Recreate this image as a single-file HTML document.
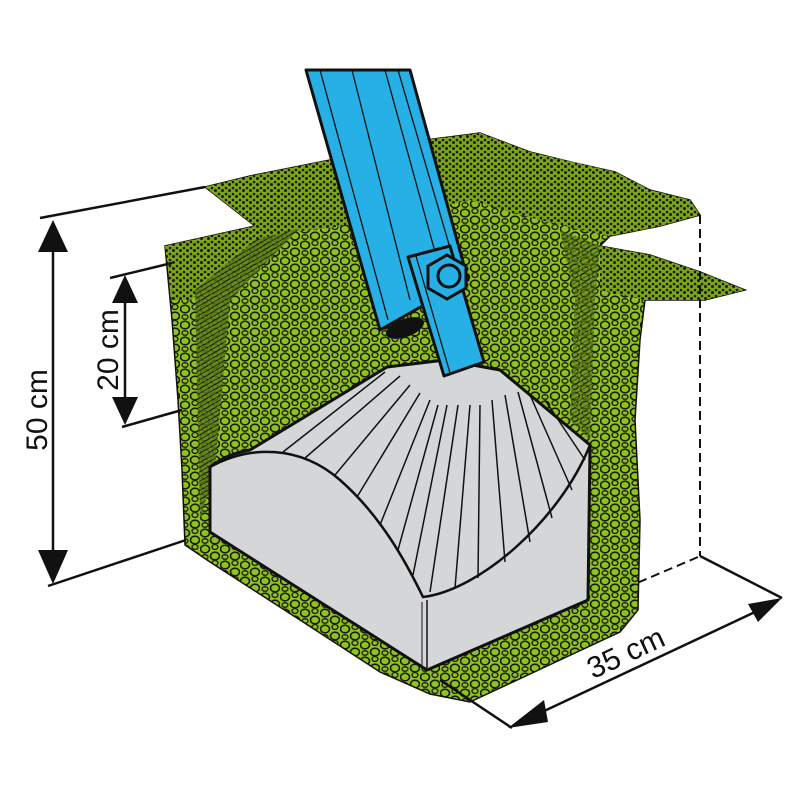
<!DOCTYPE html>
<html><head><meta charset="utf-8"><style>
html,body{margin:0;padding:0;background:#fff;width:800px;height:800px;overflow:hidden}
svg{display:block}
text{font-family:"Liberation Sans",sans-serif;font-size:30px;fill:#111}
</style></head><body>
<svg width="800" height="800" viewBox="0 0 800 800" xmlns="http://www.w3.org/2000/svg">
<defs>
<pattern id="grav" width="20" height="16" patternUnits="userSpaceOnUse">
<rect width="20" height="16" fill="#8fc21e"/>
<ellipse cx="5" cy="5" rx="4.5" ry="3.8" fill="none" stroke="#1a1a0a" stroke-width="1.6"/>
<ellipse cx="15" cy="12" rx="4.5" ry="3.8" fill="none" stroke="#1a1a0a" stroke-width="1.6"/>
<ellipse cx="15" cy="3" rx="3" ry="2.5" fill="none" stroke="#1a1a0a" stroke-width="1.3"/>
<ellipse cx="5" cy="13" rx="3" ry="2.3" fill="none" stroke="#1a1a0a" stroke-width="1.3"/>
</pattern>
<pattern id="dots" width="7" height="6" patternUnits="userSpaceOnUse">
<rect width="7" height="6" fill="#7ca51c"/>
<circle cx="2" cy="2" r="1.3" fill="#1a1a0a"/><circle cx="5.5" cy="4.5" r="1.5" fill="#1a1a0a"/>
</pattern>
<pattern id="hatch" width="4" height="4" patternUnits="userSpaceOnUse" patternTransform="rotate(60)">
<rect width="4" height="4" fill="#5f7f18"/>
<line x1="0" y1="0" x2="0" y2="4" stroke="#111" stroke-width="2"/>
</pattern>
</defs>

<path d="M205,187 L250,176 L300,166 L330,160 L410,142 L480,133 L530,152 L575,163 L615,172 L650,190 L690,200 L700,215 L660,226 L610,236 L600,246 L650,255 L700,272 L745,290 L705,300 L645,300 L640,340 L635,420 L640,520 L638,610 L620,632 L560,660 L470,702 L430,694 L380,672 L300,620 L210,562 L185,545 L182,470 L178,400 L172,320 L165,246 L210,236 L255,226 Z" fill="url(#grav)" stroke="#111" stroke-width="1.5"/>
<path d="M205,187 L250,176 L330,160 L410,142 L480,133 L530,152 L615,172 L650,190 L690,200 L700,215 L660,226 L610,236 L590,232 L520,215 L470,200 L400,215 L330,228 L290,232 L255,226 Z" fill="url(#dots)"/>
<path d="M165,246 L210,236 L255,226 L290,232 L230,270 L190,300 L172,300 Z" fill="url(#dots)"/>
<path d="M600,246 L650,255 L700,272 L745,290 L705,300 L645,300 L600,290 Z" fill="url(#dots)"/>
<path d="M195,290 L255,240 L300,228 L230,300 L215,470 L200,520 Z" fill="url(#hatch)" opacity="0.8"/>
<path d="M560,230 L600,246 L595,300 L590,440 L570,420 L575,300 Z" fill="url(#hatch)" opacity="0.6"/>

<path d="M210,467 C225,455 240,452 250,450 L387,367 L445,360 L500,370 L590,445 L588,600 L427,670 L210,532 Z" fill="#d5d6d8" stroke="#111" stroke-width="3" stroke-linejoin="round"/>
<path d="M210,467 C250,445 300,445 340,480 C380,515 405,560 423,597 C480,590 560,520 590,445" fill="none" stroke="#111" stroke-width="2.5"/>
<line x1="427" y1="600" x2="427" y2="668" stroke="#111" stroke-width="1.5"/>
<line x1="422" y1="602" x2="422" y2="665" stroke="#111" stroke-width="1"/>
<g stroke="#111" stroke-width="1.5">
<line x1="385" y1="372" x2="283" y2="452"/>
<line x1="400" y1="376" x2="305" y2="458"/>
<line x1="410" y1="385" x2="335" y2="475"/>
<line x1="420" y1="393" x2="357" y2="497"/>
<line x1="430" y1="400" x2="380" y2="525"/>
<line x1="438" y1="405" x2="398" y2="550"/>
<line x1="447" y1="405" x2="413" y2="575"/>
<line x1="458" y1="405" x2="430" y2="592"/>
<line x1="470" y1="405" x2="455" y2="588"/>
<line x1="480" y1="405" x2="478" y2="578"/>
<line x1="492" y1="400" x2="505" y2="562"/>
<line x1="505" y1="395" x2="530" y2="542"/>
<line x1="518" y1="392" x2="552" y2="518"/>
<line x1="530" y1="395" x2="572" y2="490"/>
<line x1="545" y1="400" x2="585" y2="460"/>
</g>

<path d="M306,70 L410,70 L468,280 L380,330 Z" fill="#27b0e6" stroke="#111" stroke-width="3" stroke-linejoin="round"/>
<g stroke="#111" stroke-width="1.3">
<line x1="320" y1="70" x2="388" y2="320"/>
<line x1="352" y1="70" x2="410" y2="300"/>
<line x1="385" y1="70" x2="440" y2="270"/>
<line x1="398" y1="70" x2="455" y2="265"/>
</g>
<ellipse cx="405" cy="328" rx="20" ry="9" transform="rotate(-20 405 328)" fill="#111"/>
<path d="M408,257 L450,246 L484,362 L444,376 Z" fill="#27b0e6" stroke="#111" stroke-width="3" stroke-linejoin="round"/>
<line x1="416" y1="256" x2="450" y2="373" stroke="#111" stroke-width="1.3"/>
<polygon points="447,255 466,266 466,288 447,299 428,288 428,266" fill="#27b0e6" stroke="#111" stroke-width="3"/>
<circle cx="449" cy="276" r="11" fill="#27b0e6" stroke="#111" stroke-width="3"/>

<g stroke="#111" stroke-width="2.5" fill="none">
<line x1="40" y1="218" x2="205" y2="187"/>
<line x1="48" y1="586" x2="186" y2="540"/>
<line x1="53" y1="235" x2="53" y2="570"/>
<line x1="110" y1="278" x2="172" y2="263"/>
<line x1="122" y1="427" x2="182" y2="410"/>
<line x1="125" y1="290" x2="125" y2="410"/>
<line x1="440" y1="680" x2="512" y2="728"/>
<line x1="700" y1="556" x2="782" y2="598"/>
<line x1="525" y1="720" x2="770" y2="605"/>
</g>
<g stroke="#111" stroke-width="2" stroke-dasharray="9,5" fill="none">
<line x1="700" y1="215" x2="700" y2="556"/>
<line x1="698" y1="557" x2="630" y2="586"/>
</g>
<g fill="#111">
<polygon points="53,220 38,252 68,252"/>
<polygon points="53,584 38,550 68,550"/>
<polygon points="125,275 112,303 138,303"/>
<polygon points="125,425 112,397 138,397"/>
<polygon points="508,728 544,700 548,722"/>
<polygon points="782,598 748,604 758,622"/>
</g>
<text transform="translate(47,410) rotate(-90)" text-anchor="middle">50 cm</text>
<text transform="translate(118,350) rotate(-90)" text-anchor="middle">20 cm</text>
<text transform="translate(630,662) rotate(-25)" text-anchor="middle">35 cm</text>
</svg>
</body></html>
